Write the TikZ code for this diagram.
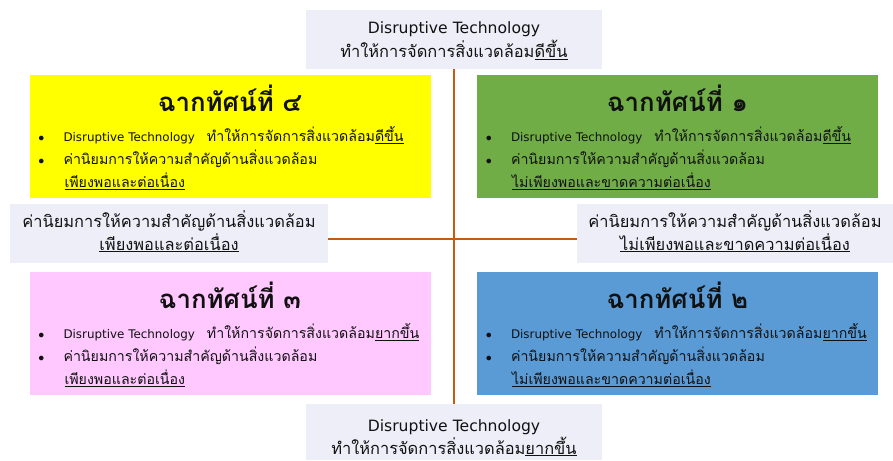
\documentclass[tikz,border=0pt]{standalone}
\usepackage{fontspec}
\setmainfont[Script=Thai]{Loma}
\newfontfamily\latfont{DejaVu Sans}
\usetikzlibrary{calc}
\definecolor{lav}{HTML}{EEEEF9}
\definecolor{qyellow}{HTML}{FFFF00}
\definecolor{qgreen}{HTML}{70AD47}
\definecolor{qpink}{HTML}{FFC9FF}
\definecolor{qblue}{HTML}{5B9BD5}
\definecolor{axiscol}{HTML}{C55A11}
\definecolor{ink}{HTML}{111111}
\newcommand\latA[1]{{\latfont\fontsize{15.6}{18}\selectfont #1}}
\newcommand\latB[1]{{\latfont\fontsize{11.9}{14}\selectfont #1}}
\tikzset{
  quadbox/.style={draw=none, inner sep=0pt, minimum width=401pt, minimum height=123pt},
  lavbox/.style={draw=none, fill=lav, inner sep=0pt},
  titletext/.style={anchor=base, inner sep=0pt, text=ink, font=\fontsize{25.8}{30}\selectfont\bfseries},
  bultext/.style={anchor=base west, inner sep=0pt, text=ink, font=\fontsize{14.2}{17}\selectfont},
  buldot/.style={anchor=base, inner sep=0pt, text=ink, font=\fontsize{12.5}{15}\selectfont},
  captext/.style={anchor=base, inner sep=0pt, text=ink, font=\fontsize{16.4}{19}\selectfont},
  axisline/.style={draw=axiscol, line width=2.6pt}
}
\newcommand\myquad[7]{%
  \node[quadbox, fill=#2] (#1) at (#3+200.5,#4+61.5) {};
  \node[titletext] (#1t) at ($(#1.north)+(0,37)$) {ฉากทัศน์ที่ #5};
  \node[buldot] (#1d1) at ($(#1.north west)+(12,67)$) {$\bullet$};
  \node[bultext] (#1l1) at ($(#1.north west)+(34,67)$) {\latB{Disruptive Technology}\hspace{12pt}ทำให้การจัดการสิ่งแวดล้อม\underline{#6}};
  \node[buldot] (#1d2) at ($(#1.north west)+(12,90)$) {$\bullet$};
  \node[bultext] (#1l2) at ($(#1.north west)+(34,90)$) {ค่านิยมการให้ความสำคัญด้านสิ่งแวดล้อม};
  \node[bultext] (#1l3) at ($(#1.north west)+(35,113)$) {\underline{#7}};
}
\begin{document}
\begin{tikzpicture}[x=1pt,y=-1pt]
\useasboundingbox (0,0) rectangle (893,460);
% top and bottom boxes
\node[lavbox, minimum width=296pt, minimum height=59pt] (top) at (454,39.5) {};
\node[lavbox, minimum width=296pt, minimum height=56pt] (bot) at (454,432) {};
\node[lavbox, minimum width=318pt, minimum height=59pt] (lmid) at (169,233.5) {};
\node[lavbox, minimum width=316pt, minimum height=59pt] (rmid) at (735,233.5) {};
% axes
\coordinate (hc) at (454,239);
\draw[axisline] (top.south) -- (bot.north);
\draw[axisline] (lmid.east |- hc) -- (rmid.west |- hc);
% quadrants
\myquad{qfour}{qyellow}{29.5}{75}{๔}{ดีขึ้น}{เพียงพอและต่อเนื่อง}
\myquad{qone}{qgreen}{477}{75}{๑}{ดีขึ้น}{ไม่เพียงพอและขาดความต่อเนื่อง}
\myquad{qthree}{qpink}{29.5}{272}{๓}{ยากขึ้น}{เพียงพอและต่อเนื่อง}
\myquad{qtwo}{qblue}{477}{272}{๒}{ยากขึ้น}{ไม่เพียงพอและขาดความต่อเนื่อง}
% captions
\node[captext] (topa) at (454,34) {\latA{Disruptive Technology}};
\node[captext] (topb) at (454,58) {ทำให้การจัดการสิ่งแวดล้อม\underline{ดีขึ้น}};
\node[captext] (bota) at (454,431) {\latA{Disruptive Technology}};
\node[captext] (botb) at (454,454) {ทำให้การจัดการสิ่งแวดล้อม\underline{ยากขึ้น}};
\node[captext] (lmida) at (169,227) {ค่านิยมการให้ความสำคัญด้านสิ่งแวดล้อม};
\node[captext] (lmidb) at (169,250) {\underline{เพียงพอและต่อเนื่อง}};
\node[captext] (rmida) at (735,227) {ค่านิยมการให้ความสำคัญด้านสิ่งแวดล้อม};
\node[captext] (rmidb) at (735,250) {\underline{ไม่เพียงพอและขาดความต่อเนื่อง}};
\end{tikzpicture}
\end{document}
